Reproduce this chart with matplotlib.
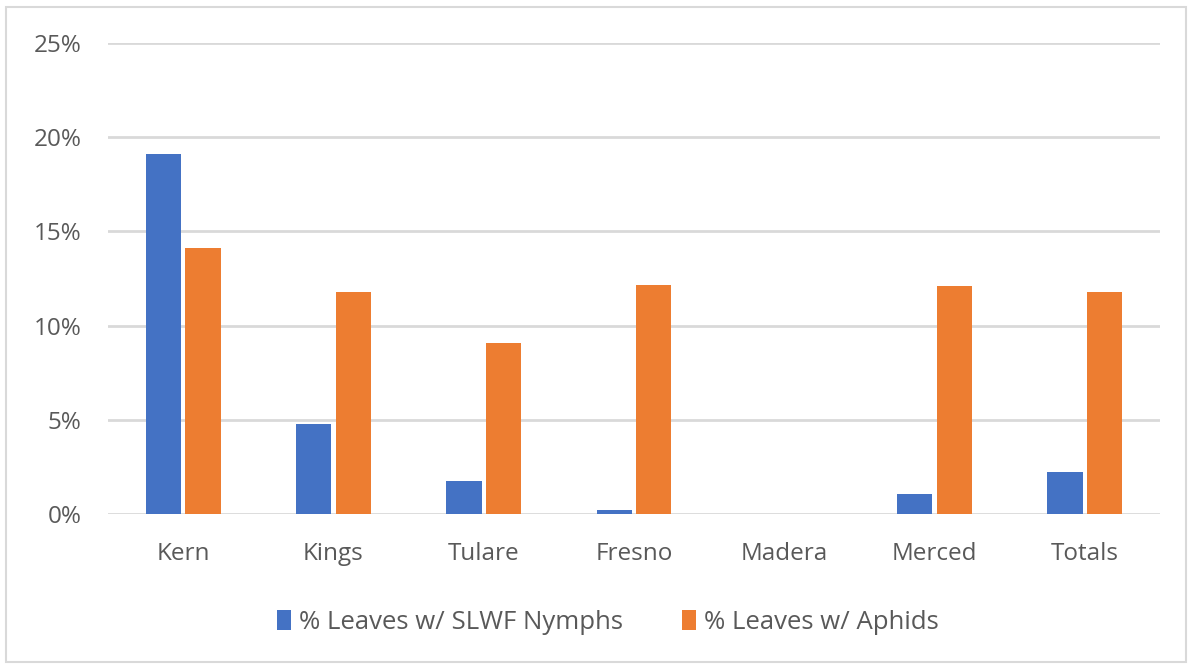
import numpy as np
import matplotlib
matplotlib.use("Agg")
import matplotlib.pyplot as plt
from matplotlib.patches import Rectangle
from matplotlib.ticker import FuncFormatter

# Datos
counties = ["Kern", "Kings", "Tulare", "Fresno", "Madera", "Merced", "Totals"]
slwf_nymphs = [19.1, 4.8, 1.75, 0.2, 0.0, 1.05, 2.25]
aphids = [14.1, 11.8, 9.05, 12.15, 0.0, 12.1, 11.8]
series_names = ["% Leaves w/ SLWF Nymphs", "% Leaves w/ Aphids"]

plt.rcParams['font.family'] = ['Open Sans', 'DejaVu Sans']

fig = plt.figure(figsize=(11.89, 6.64), dpi=100)
ax = fig.add_axes([108 / 1189, 1 - 514 / 664, 1052 / 1189, 471 / 664])

x = np.arange(len(counties))
w = 0.235
ax.bar(x - w / 2 - 0.014, slwf_nymphs, w, color="#4472C4", label=series_names[0], zorder=3)
ax.bar(x + w / 2 + 0.014, aphids, w, color="#ED7D31", label=series_names[1], zorder=3)

ax.set_xlim(-0.5, len(counties) - 0.5)
ax.set_ylim(0, 25)
ax.set_yticks(np.arange(0, 26, 5))
ax.yaxis.set_major_formatter(FuncFormatter(lambda v, p: f"{v:.0f}%"))
ax.set_xticks(x)
ax.set_xticklabels(counties)
ax.grid(axis="y", color="#d9d9d9", linewidth=2, zorder=0)
ax.tick_params(axis="both", length=0, labelsize=17.5, colors="#595959")
ax.tick_params(axis="x", pad=20)
ax.tick_params(axis="y", pad=19)
for s in ax.spines.values():
    s.set_visible(False)

ax.legend(loc="upper center", bbox_to_anchor=(0.475, -0.155), ncol=2, frameon=False,
          fontsize=18.5, labelcolor="#595959", handlelength=0.55, handleheight=0.8,
          handletextpad=0.3, columnspacing=2.3)

fig.patches.append(Rectangle((6 / 1189, 2 / 664), 1180 / 1189, 655 / 664, transform=fig.transFigure,
                             fill=False, edgecolor="#d9d9d9", linewidth=1.5))

fig.savefig("out.png", dpi=100)
